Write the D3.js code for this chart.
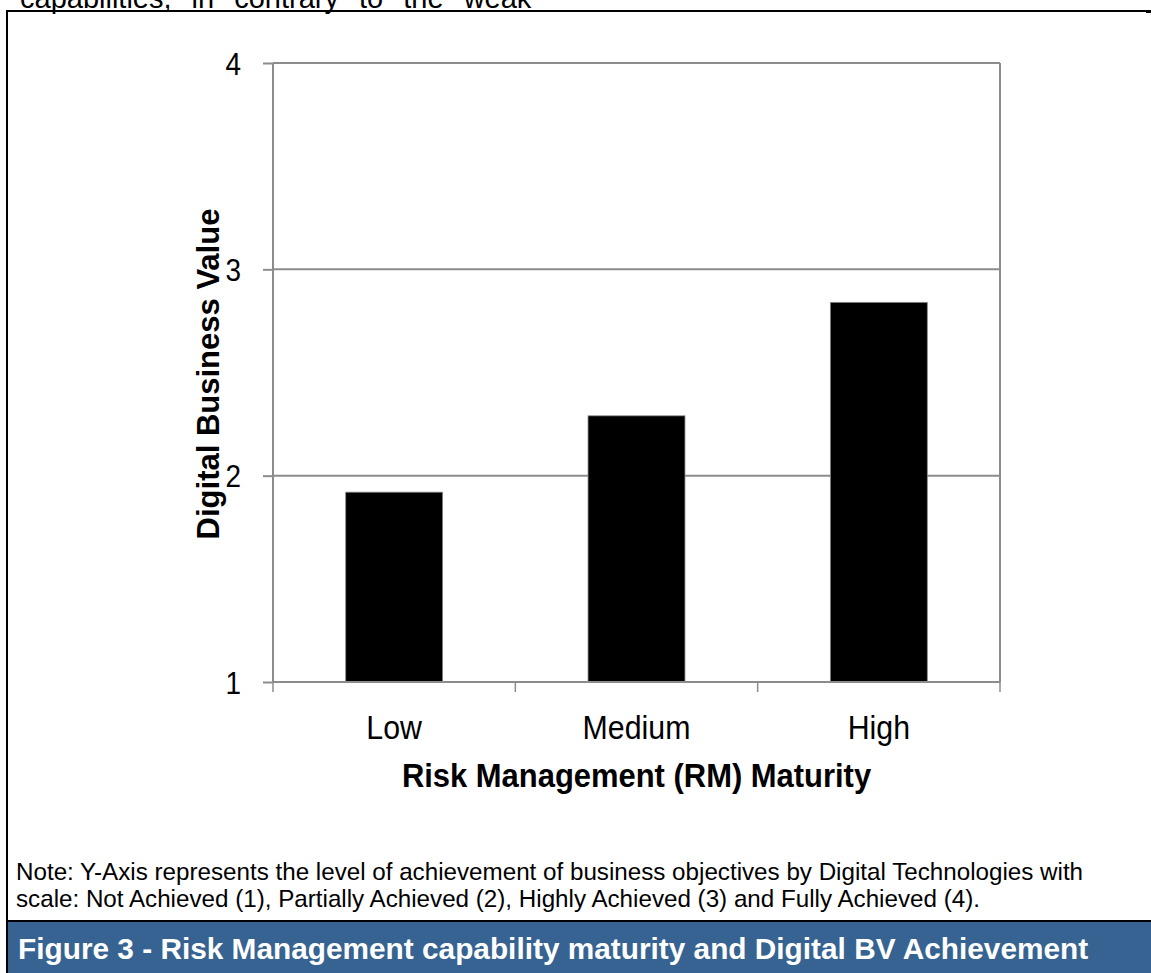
<!DOCTYPE html>
<html><head><meta charset="utf-8">
<script src="https://cdn.jsdelivr.net/npm/d3@7/dist/d3.min.js"></script>
<style>
body{margin:0;background:#fff;}
svg{display:block;}
</style></head>
<body>
<script>
const categories = ["Low", "Medium", "High"];
const values = [1.92, 2.29, 2.84];
const yTicks = [1, 2, 3, 4];
const xTitle = "Risk Management (RM) Maturity";
const yTitle = "Digital Business Value";
const noteLines = ["Note: Y-Axis represents the level of achievement of business objectives by Digital Technologies with",
                   "scale: Not Achieved (1), Partially Achieved (2), Highly Achieved (3) and Fully Achieved (4)."];
const caption = "Figure 3 - Risk Management capability maturity and Digital BV Achievement";
const topText = "capabilities, in contrary to the weak";

const W = 1151, H = 973;
const svg = d3.select("body").append("svg").attr("width", W).attr("height", H);
const sans = "'Liberation Sans',Arial,sans-serif";

// partial top text (cut by the page edge, as in the source)
svg.append("text").attr("x", 20).attr("y", 8).attr("font-family", sans).attr("font-size", 29)
  .attr("word-spacing", 12).attr("fill", "#000").text(topText);

// frame
svg.append("line").attr("x1", 6).attr("x2", 1146).attr("y1", 11).attr("y2", 11).attr("stroke", "#000").attr("stroke-width", 2);
svg.append("rect").attr("x", 1146).attr("y", 10).attr("width", 5).attr("height", 3).attr("fill", "#000");
svg.append("line").attr("x1", 7).attr("x2", 7).attr("y1", 10).attr("y2", H).attr("stroke", "#000").attr("stroke-width", 2);

// caption band
svg.append("rect").attr("x", 8).attr("y", 922).attr("width", W - 8).attr("height", H - 922).attr("fill", "#366391");
svg.append("line").attr("x1", 6).attr("x2", W).attr("y1", 921).attr("y2", 921).attr("stroke", "#000").attr("stroke-width", 2);
svg.append("text").attr("x", 18).attr("y", 959).attr("font-family", sans).attr("font-weight", "bold")
  .attr("font-size", 29.8).attr("fill", "#fff").text(caption);

// note
svg.selectAll("text.note").data(noteLines).enter().append("text").attr("class", "note")
  .attr("x", 16).attr("y", (d, i) => 880 + i * 27).attr("font-family", sans).attr("font-size", 24.2)
  .attr("fill", "#000").text(d => d);

// plot
const L = 273, R = 1000, T = 63, B = 682;
const x = d3.scaleBand().domain(categories).range([L, R]).paddingInner(0.6).paddingOuter(0.3);
const y = d3.scaleLinear().domain([1, 4]).range([B, T]);
const grid = "#8c8c8c";

// gridlines
svg.selectAll("line.grid").data(yTicks.slice(1)).enter().append("line").attr("class", "grid")
  .attr("x1", L).attr("x2", R).attr("y1", d => y(d)).attr("y2", d => y(d))
  .attr("stroke", grid).attr("stroke-width", 2);
// right border
svg.append("line").attr("x1", R).attr("x2", R).attr("y1", T).attr("y2", B).attr("stroke", grid).attr("stroke-width", 2);

// bars
svg.selectAll("rect.bar").data(values).enter().append("rect").attr("class", "bar")
  .attr("x", (d, i) => x(categories[i])).attr("width", x.bandwidth())
  .attr("y", d => y(d)).attr("height", d => y(1) - y(d))
  .attr("fill", "#000").attr("stroke", "#888").attr("stroke-width", 0.8);

// y axis
const yAxis = d3.axisLeft(y).tickValues(yTicks).tickSize(10).tickPadding(0).tickFormat(d3.format("d"));
const gy = svg.append("g").attr("transform", `translate(${L},0)`).call(yAxis);
gy.select(".domain").attr("stroke", grid).attr("stroke-width", 2).attr("d", `M0,${T}V${B}`);
gy.selectAll(".tick line").attr("stroke", grid).attr("stroke-width", 2);
gy.selectAll(".tick text").attr("x", null).attr("dy", null)
  .attr("transform", "translate(-32,11) scale(0.9,1)")
  .attr("font-family", sans).attr("font-size", 31).attr("fill", "#000");

// x axis
const xBounds = d3.range(categories.length + 1).map(i => L + i * x.step());
svg.append("line").attr("x1", L).attr("x2", R).attr("y1", B).attr("y2", B).attr("stroke", grid).attr("stroke-width", 2);
svg.selectAll("line.xt").data(xBounds).enter().append("line").attr("class", "xt")
  .attr("x1", d => d).attr("x2", d => d).attr("y1", B).attr("y2", B + 10).attr("stroke", grid).attr("stroke-width", 1.5);
const xAxis = d3.axisBottom(x).tickSize(0).tickPadding(0);
const gx = svg.append("g").attr("transform", `translate(0,${B})`).call(xAxis);
gx.select(".domain").remove();
gx.selectAll(".tick text").attr("y", null).attr("dy", null)
  .attr("transform", "translate(0,57) scale(0.905,1)")
  .attr("font-family", sans).attr("font-size", 33.5).attr("fill", "#000");

// titles
svg.append("text").attr("transform", `translate(${(L + R) / 2},787) scale(0.91,1)`).attr("text-anchor", "middle")
  .attr("font-family", sans).attr("font-weight", "bold").attr("font-size", 34).attr("fill", "#000").text(xTitle);
svg.append("text").attr("transform", `translate(219,374) rotate(-90)`).attr("text-anchor", "middle")
  .attr("font-family", sans).attr("font-weight", "bold").attr("font-size", 31).attr("fill", "#000").text(yTitle);
</script>
</body></html>
